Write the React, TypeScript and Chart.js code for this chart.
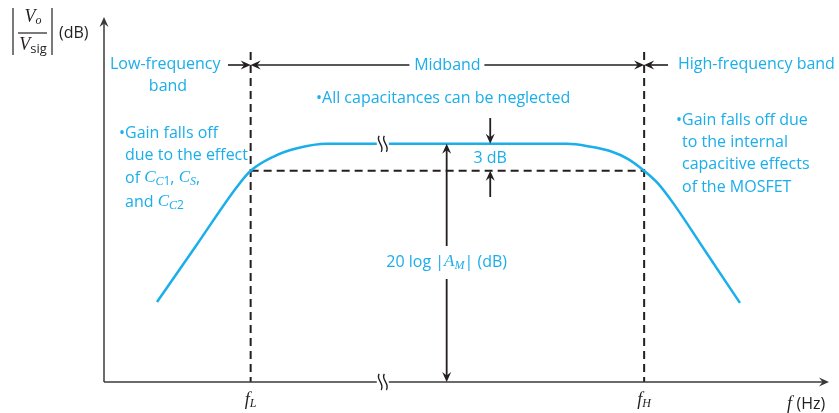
import React, { useEffect, useRef } from "react";
import { Chart, registerables } from "chart.js";

Chart.register(...registerables);

// Positions along the frequency axis (schematic units)
const F_MIN = 0;
const F_MAX = 100;
const F_L = 20.2;
const F_H = 74.4;
const F_BREAK = 38.4;
const F_AM_ARROW = 47.2;
const F_3DB_ARROW = 53.2;

// Gain levels in dB
const DB_MIN = 13.5;
const DB_MAX = 54;
const AM_DB = 40; // 20 log|A_M|
const DROP_DB = 3; // gain drop at f_L and f_H

// Sampled magnitude response
const CURVE_F = [7.3, 12.8, 18.3, 20.2, 23.3, 26.6, 30.7, 63.8, 66.9, 69.7, 72.2, 74.4, 76.3, 78.4, 83.0, 87.6];
const CURVE_DB = [22.4, 28.8, 35.2, 37.0, 38.56, 39.5, 40, 40, 39.7, 39.2, 38.3, 37.0, 35.6, 33.4, 27.85, 22.3];

// Text
const BAND_LABELS = ["Low-frequency", "band", "Midband", "High-frequency band"];
const MID_NOTE = "All capacitances can be neglected";
const LEFT_NOTE = ["Gain falls off", "due to the effect"];
const RIGHT_NOTE = ["Gain falls off due", "to the internal", "capacitive effects", "of the MOSFET"];

const INK = "#231f20";
const CYAN = "#1aaeea";
const SANS = '"Open Sans", "DejaVu Sans", sans-serif';
const SERIF = '"Liberation Serif", "DejaVu Serif", serif';

type Run = { t: string; font: string; dy?: number };

function drawRuns(ctx: CanvasRenderingContext2D, x: number, y: number, parts: Run[], align: "left" | "center" = "left") {
  const widths = parts.map((p) => {
    ctx.font = p.font;
    return ctx.measureText(p.t).width;
  });
  const total = widths.reduce((a, b) => a + b, 0);
  let cx = align === "center" ? x - total / 2 : x;
  ctx.textAlign = "left";
  ctx.textBaseline = "middle";
  parts.forEach((p, i) => {
    ctx.font = p.font;
    ctx.fillText(p.t, cx, y + (p.dy || 0));
    cx += widths[i];
  });
  return total;
}

function head(ctx: CanvasRenderingContext2D, x: number, y: number, angle: number) {
  ctx.save();
  ctx.translate(x, y);
  ctx.rotate(angle);
  ctx.beginPath();
  ctx.moveTo(0, 0);
  ctx.lineTo(-10, -4.5);
  ctx.lineTo(-6.5, 0);
  ctx.lineTo(-10, 4.5);
  ctx.closePath();
  ctx.fill();
  ctx.restore();
}

function seg(ctx: CanvasRenderingContext2D, x1: number, y1: number, x2: number, y2: number) {
  ctx.beginPath();
  ctx.moveTo(x1, y1);
  ctx.lineTo(x2, y2);
  ctx.stroke();
}

function breakMark(ctx: CanvasRenderingContext2D, x: number, y: number) {
  ctx.save();
  ctx.fillStyle = "#ffffff";
  ctx.fillRect(x - 6, y - 3, 12, 6);
  ctx.strokeStyle = INK;
  ctx.lineWidth = 1.4;
  [-2.6, 2.6].forEach((dx) => {
    const sx = x + dx;
    ctx.beginPath();
    ctx.moveTo(sx - 1, y - 8);
    ctx.bezierCurveTo(sx - 5, y - 3, sx + 5, y + 2, sx + 1, y + 8);
    ctx.stroke();
  });
  ctx.restore();
}

const R = Math.PI;

const backdrop = {
  id: "backdrop",
  beforeDatasetsDraw(chart: any) {
    const ctx: CanvasRenderingContext2D = chart.ctx;
    const xs = chart.scales.x;
    const ys = chart.scales.y;
    const area = chart.chartArea;
    const fL = xs.getPixelForValue(F_L);
    const fH = xs.getPixelForValue(F_H);
    const y3 = ys.getPixelForValue(AM_DB - DROP_DB);
    ctx.save();
    ctx.strokeStyle = INK;
    ctx.lineWidth = 2;
    ctx.setLineDash([8, 5]);
    seg(ctx, fL, 52, fL, area.bottom);
    seg(ctx, fH, 52, fH, area.bottom);
    seg(ctx, fL, y3, fH, y3);
    ctx.restore();
  },
};

const overlay = {
  id: "overlay",
  afterDatasetsDraw(chart: any) {
    const ctx: CanvasRenderingContext2D = chart.ctx;
    const xs = chart.scales.x;
    const ys = chart.scales.y;
    const area = chart.chartArea;
    const X = (v: number) => xs.getPixelForValue(v);
    const Y = (v: number) => ys.getPixelForValue(v);
    const fL = X(F_L);
    const fH = X(F_H);
    const yMid = Y(AM_DB);
    const y3 = Y(AM_DB - DROP_DB);

    ctx.save();
    // axes
    ctx.strokeStyle = "#3a3a3a";
    ctx.fillStyle = "#3a3a3a";
    ctx.lineWidth = 1.5;
    seg(ctx, area.left, area.bottom, area.left, area.top + 4);
    head(ctx, area.left, area.top - 1, -R / 2);
    seg(ctx, area.left, area.bottom, area.right - 6, area.bottom);
    head(ctx, area.right - 1, area.bottom, 0);

    // band arrows
    ctx.strokeStyle = INK;
    ctx.fillStyle = INK;
    ctx.lineWidth = 1.6;
    const rowY = 65;
    const midX = (fL + fH) / 2;
    seg(ctx, 228, rowY, fL - 4, rowY);
    head(ctx, fL, rowY, 0);
    head(ctx, fL, rowY, R);
    seg(ctx, fL + 4, rowY, midX - 38, rowY);
    seg(ctx, midX + 37, rowY, fH - 4, rowY);
    head(ctx, fH, rowY, 0);
    head(ctx, fH, rowY, R);
    seg(ctx, fH + 4, rowY, 668, rowY);

    // 20 log|A_M| arrow
    const ax = X(F_AM_ARROW);
    ctx.lineWidth = 1.8;
    seg(ctx, ax, yMid + 4, ax, 246);
    seg(ctx, ax, 279, ax, area.bottom - 4);
    head(ctx, ax, yMid, -R / 2);
    head(ctx, ax, area.bottom, R / 2);

    // 3 dB arrows
    const bx = X(F_3DB_ARROW);
    seg(ctx, bx, 118, bx, yMid - 4);
    head(ctx, bx, yMid, R / 2);
    seg(ctx, bx, 197, bx, y3 + 4);
    head(ctx, bx, y3, -R / 2);

    // axis breaks
    breakMark(ctx, X(F_BREAK), yMid);
    breakMark(ctx, X(F_BREAK), area.bottom);

    // cyan annotations
    ctx.fillStyle = CYAN;
    const f16 = `16px ${SANS}`;
    drawRuns(ctx, 110, 64, [{ t: BAND_LABELS[0], font: f16 }]);
    drawRuns(ctx, 168, 86, [{ t: BAND_LABELS[1], font: f16 }], "center");
    drawRuns(ctx, midX, 65, [{ t: BAND_LABELS[2], font: f16 }], "center");
    drawRuns(ctx, 678, 64, [{ t: BAND_LABELS[3], font: f16 }]);

    drawRuns(ctx, 316, 98, [{ t: "•", font: f16 }, { t: MID_NOTE, font: f16 }]);

    drawRuns(ctx, bx, 158, [{ t: `${DROP_DB} dB`, font: f16 }], "center");

    const mI = `italic 17px ${SERIF}`;
    const mS = `italic 12px ${SERIF}`;
    drawRuns(
      ctx,
      ax,
      262,
      [
        { t: "20 log |", font: f16 },
        { t: "A", font: mI },
        { t: "M", font: mS, dy: 4 },
        { t: "| (dB)", font: f16 },
      ],
      "center"
    );

    // left note
    drawRuns(ctx, 119, 133, [{ t: "•", font: f16 }, { t: LEFT_NOTE[0], font: f16 }]);
    drawRuns(ctx, 125, 155, [{ t: LEFT_NOTE[1], font: f16 }]);
    drawRuns(ctx, 125, 178, [
      { t: "of ", font: f16 },
      { t: "C", font: mI },
      { t: "C", font: mS, dy: 4 },
      { t: "1", font: `12px ${SANS}`, dy: 4 },
      { t: ", ", font: f16 },
      { t: "C", font: mI },
      { t: "S", font: mS, dy: 4 },
      { t: ",", font: f16 },
    ]);
    drawRuns(ctx, 125, 202, [
      { t: "and ", font: f16 },
      { t: "C", font: mI },
      { t: "C", font: mS, dy: 4 },
      { t: "2", font: `12px ${SANS}`, dy: 4 },
    ]);

    // right note
    drawRuns(ctx, 676, 120, [{ t: "•", font: f16 }, { t: RIGHT_NOTE[0], font: f16 }]);
    RIGHT_NOTE.slice(1).forEach((line, i) => {
      drawRuns(ctx, 682, 142 + i * 22.5, [{ t: line, font: f16 }]);
    });

    // axis labels
    ctx.fillStyle = INK;
    const fI = `italic 18px ${SERIF}`;
    const sI = `italic 12px ${SERIF}`;
    drawRuns(ctx, fL, 400, [{ t: "f", font: fI }, { t: "L", font: sI, dy: 4 }], "center");
    drawRuns(ctx, fH, 400, [{ t: "f", font: fI }, { t: "H", font: sI, dy: 4 }], "center");
    drawRuns(ctx, 787, 404, [{ t: "f ", font: fI }, { t: "(Hz)", font: `16px ${SANS}` }]);

    // |Vo / Vsig| (dB)
    ctx.strokeStyle = INK;
    ctx.lineWidth = 1.2;
    seg(ctx, 13, 8, 13, 55);
    seg(ctx, 52, 8, 52, 55);
    seg(ctx, 18, 33, 47, 33);
    drawRuns(ctx, 33, 17, [{ t: "V", font: fI }, { t: "o", font: sI, dy: 4 }], "center");
    drawRuns(ctx, 33, 45, [{ t: "V", font: fI }, { t: "sig", font: `13px ${SANS}`, dy: 4 }], "center");
    drawRuns(ctx, 59, 33, [{ t: "(dB)", font: `16px ${SANS}` }]);

    ctx.restore();
  },
};

export default function App() {
  const ref = useRef<HTMLCanvasElement>(null);

  useEffect(() => {
    if (!ref.current) return;
    const chart = new Chart(ref.current, {
      type: "line",
      data: {
        datasets: [
          {
            data: CURVE_F.map((f, i) => ({ x: f, y: CURVE_DB[i] })),
            borderColor: CYAN,
            borderWidth: 2.5,
            pointRadius: 0,
            cubicInterpolationMode: "monotone",
            fill: false,
          },
        ],
      },
      options: {
        responsive: false,
        animation: false,
        devicePixelRatio: 1,
        layout: { padding: { left: 104, right: 9, top: 18, bottom: 31 } },
        scales: {
          x: { type: "linear", min: F_MIN, max: F_MAX, display: false },
          y: { type: "linear", min: DB_MIN, max: DB_MAX, display: false },
        },
        plugins: { legend: { display: false }, tooltip: { enabled: false } },
      },
      plugins: [backdrop, overlay],
    });
    return () => chart.destroy();
  }, []);

  return (
    <canvas
      ref={ref}
      width={839}
      height={413}
      style={{ position: "absolute", left: 0, top: 0, display: "block", background: "#ffffff" }}
    />
  );
}
